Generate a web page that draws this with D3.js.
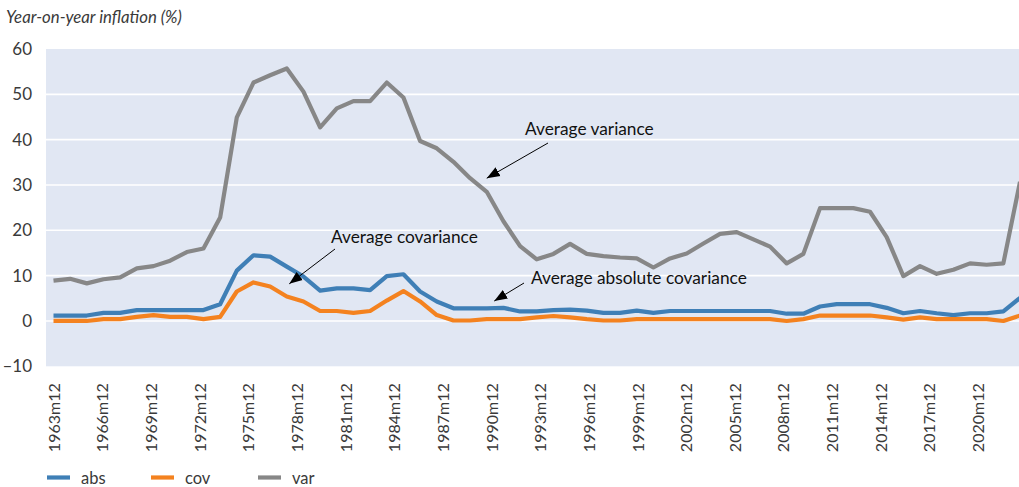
<!DOCTYPE html>
<html>
<head>
<meta charset="utf-8">
<script src="https://cdn.jsdelivr.net/npm/d3@7"></script>
<style>
  html, body { margin: 0; padding: 0; background: #fff; }
  svg { display: block; font-family: Lato, "Open Sans", sans-serif; }
</style>
</head>
<body>
<svg id="chart" width="1019" height="487"></svg>
<script>
// Observation years (December of each year)
const obsYears = [1963, 1964, 1965, 1966, 1967, 1968, 1969, 1970, 1971, 1972,
  1973, 1974, 1975, 1976, 1977, 1978, 1979, 1980, 1981, 1982,
  1983, 1984, 1985, 1986, 1987, 1988, 1989, 1990, 1991, 1992,
  1993, 1994, 1995, 1996, 1997, 1998, 1999, 2000, 2001, 2002,
  2003, 2004, 2005, 2006, 2007, 2008, 2009, 2010, 2011, 2012,
  2013, 2014, 2015, 2016, 2017, 2018, 2019, 2020, 2021];

// Average absolute covariance
const absValues = [1.2, 1.2, 1.2, 1.8, 1.8, 2.4, 2.4, 2.4, 2.4, 2.4,
  3.7, 11.1, 14.5, 14.2, 12.0, 9.8, 6.7, 7.2, 7.2, 6.8,
  9.9, 10.3, 6.5, 4.3, 2.8, 2.8, 2.8, 2.9, 2.1, 2.1,
  2.4, 2.5, 2.3, 1.8, 1.8, 2.3, 1.8, 2.2, 2.2, 2.2,
  2.2, 2.2, 2.2, 2.2, 1.6, 1.6, 3.2, 3.7, 3.7, 3.7,
  2.9, 1.7, 2.2, 1.7, 1.3, 1.7, 1.7, 2.1, 5.1];

// Average covariance
const covValues = [0.0, 0.0, 0.0, 0.4, 0.4, 0.9, 1.3, 0.9, 0.9, 0.4,
  0.9, 6.5, 8.5, 7.6, 5.4, 4.3, 2.2, 2.2, 1.8, 2.2,
  4.5, 6.6, 4.3, 1.3, 0.1, 0.1, 0.4, 0.4, 0.4, 0.8,
  1.1, 0.8, 0.4, 0.1, 0.1, 0.4, 0.4, 0.4, 0.4, 0.4,
  0.4, 0.4, 0.4, 0.4, 0.0, 0.4, 1.2, 1.2, 1.2, 1.2,
  0.8, 0.3, 0.8, 0.4, 0.4, 0.4, 0.4, 0.0, 1.2];

// Average variance
const varValues = [8.9, 9.3, 8.3, 9.2, 9.6, 11.6, 12.1, 13.3, 15.2, 16.0,
  22.8, 44.9, 52.6, 54.2, 55.7, 50.6, 42.7, 46.9, 48.5, 48.5,
  52.6, 49.3, 39.7, 38.1, 35.1, 31.5, 28.5, 22.0, 16.5, 13.6,
  14.8, 17.0, 14.8, 14.3, 14.0, 13.8, 11.8, 13.8, 14.9, 17.1,
  19.2, 19.6, 18.0, 16.4, 12.7, 14.8, 24.9, 24.9, 24.9, 24.1,
  18.5, 9.9, 12.1, 10.4, 11.3, 12.7, 12.4, 12.7, 30.7];

// Category axis: one slot per year, labelled every third year
const axisYears = [1963, 1964, 1965, 1966, 1967, 1968, 1969, 1970, 1971, 1972,
  1973, 1974, 1975, 1976, 1977, 1978, 1979, 1980, 1981, 1982,
  1983, 1984, 1985, 1986, 1987, 1988, 1989, 1990, 1991, 1992,
  1993, 1994, 1995, 1996, 1997, 1998, 1999, 2000, 2001, 2002,
  2003, 2004, 2005, 2006, 2007, 2008, 2009, 2010, 2011, 2012,
  2013, 2014, 2015, 2016, 2017, 2018, 2019, 2020, 2021, 2022];
const tickYears = [1963, 1966, 1969, 1972, 1975, 1978, 1981, 1984, 1987, 1990,
  1993, 1996, 1999, 2002, 2005, 2008, 2011, 2014, 2017, 2020];

const yTicks = [-10, 0, 10, 20, 30, 40, 50, 60];
const gridValues = [0, 10, 20, 30, 40, 50];

const seriesNames = ["abs", "cov", "var"];
const seriesColors = ["#3f7fb6", "#f4821f", "#878787"];

// Callout labels, each pointing at a position in data space
const noteTexts = ["Average variance", "Average covariance", "Average absolute covariance"];
const noteTargetYears = [1989.0, 1977.15, 1989.45];
const noteTargetValues = [31.5, 8.2, 4.4];

// ---- layout ----
const svg = d3.select("#chart");
const plot = { left: 46, right: 1019, top: 49, bottom: 366.3 };

const x = d3.scaleLinear().domain([1963, 2021]).range([53.5, 1020]);
const xCat = d3.scaleBand().domain(axisYears).range([plot.left, plot.right]);
const y = d3.scaleLinear().domain([-10, 60]).range([plot.bottom, plot.top]);

// plot background
svg.append("rect")
  .attr("x", plot.left).attr("y", plot.top)
  .attr("width", plot.right - plot.left).attr("height", plot.bottom - plot.top)
  .attr("fill", "#e1e7f3");

// horizontal gridlines
svg.append("g").selectAll("line").data(gridValues).join("line")
  .attr("x1", plot.left).attr("x2", plot.right)
  .attr("y1", d => y(d)).attr("y2", d => y(d))
  .attr("stroke", "#fff").attr("stroke-width", 1.6);

// y axis labels
const yAxis = svg.append("g")
  .attr("transform", `translate(${plot.left},0)`)
  .call(d3.axisLeft(y).tickValues(yTicks).tickSize(0).tickPadding(14)
    .tickFormat(d => d < 0 ? "\u2013" + Math.abs(d) : d));
yAxis.select(".domain").remove();
yAxis.selectAll("text")
  .attr("font-size", 17).attr("fill", "#3a3a3a")
  .style("font-family", "Lato, sans-serif");

// x axis labels (rotated)
const xAxis = svg.append("g")
  .attr("transform", `translate(0,${plot.bottom})`)
  .call(d3.axisBottom(xCat).tickValues(tickYears).tickSize(0)
    .tickFormat(d => d + "m12"));
xAxis.select(".domain").remove();
xAxis.selectAll("text")
  .attr("font-size", 16).attr("fill", "#3a3a3a")
  .style("font-family", "Lato, sans-serif")
  .attr("text-anchor", "end")
  .attr("transform", "rotate(-90)")
  .attr("x", -17).attr("y", 0).attr("dy", "0.35em");

// series lines
const seriesValues = [absValues, covValues, varValues];
const line = d3.line()
  .x((d, i) => x(obsYears[i]))
  .y(d => y(d));

svg.append("g").selectAll("path").data(seriesValues).join("path")
  .attr("d", d => line(d))
  .attr("fill", "none")
  .attr("stroke", (d, i) => seriesColors[i])
  .attr("stroke-width", 4.2)
  .attr("stroke-linejoin", "round");

// callouts
const defs = svg.append("defs");
defs.append("marker")
  .attr("id", "arrowhead")
  .attr("markerUnits", "userSpaceOnUse")
  .attr("markerWidth", 14).attr("markerHeight", 12)
  .attr("viewBox", "0 -6 14 12")
  .attr("refX", 13).attr("refY", 0)
  .attr("orient", "auto")
  .append("path").attr("d", "M0,-5L13,0L0,5Z").attr("fill", "#000");

// text anchor positions and arrow starting points for each callout
const noteTextPos = [[525, 135], [331, 243], [531, 284]];
const noteArrowStart = [[548, 143], [335, 249], [524, 283]];

const notes = svg.append("g");
noteTexts.forEach((t, i) => {
  notes.append("line")
    .attr("x1", noteArrowStart[i][0]).attr("y1", noteArrowStart[i][1])
    .attr("x2", x(noteTargetYears[i])).attr("y2", y(noteTargetValues[i]))
    .attr("stroke", "#000").attr("stroke-width", 1)
    .attr("marker-end", "url(#arrowhead)");
  notes.append("text")
    .attr("x", noteTextPos[i][0]).attr("y", noteTextPos[i][1])
    .attr("font-size", 17.3).attr("fill", "#111")
    .text(t);
});

// title
svg.append("text")
  .attr("x", 6).attr("y", 23)
  .attr("font-size", 16.8).attr("font-style", "italic").attr("fill", "#3a3a3a")
  .text("Year-on-year inflation (%)");

// legend
const legendX = [47, 151, 258];
const legend = svg.append("g");
seriesNames.forEach((name, i) => {
  legend.append("line")
    .attr("x1", legendX[i]).attr("x2", legendX[i] + 23)
    .attr("y1", 477.5).attr("y2", 477.5)
    .attr("stroke", seriesColors[i]).attr("stroke-width", 4.2);
  legend.append("text")
    .attr("x", legendX[i] + 34).attr("y", 483.5)
    .attr("font-size", 16.5).attr("fill", "#3a3a3a")
    .text(name);
});
</script>
</body>
</html>
